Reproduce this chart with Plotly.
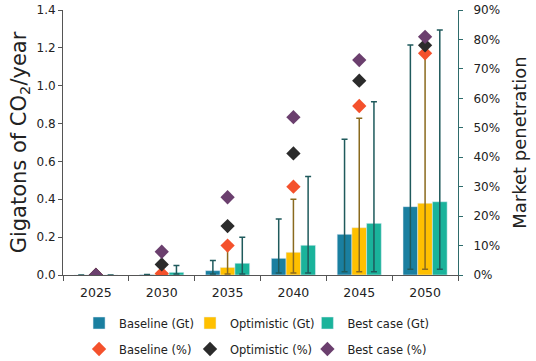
import plotly.graph_objects as go

years = ["2025", "2030", "2035", "2040", "2045", "2050"]

# Emission reductions (Gt CO2/year)
base_gt = [0.0, 0.002, 0.023, 0.088, 0.215, 0.361]
opt_gt = [0.0, 0.003, 0.040, 0.120, 0.250, 0.379]
best_gt = [0.0, 0.014, 0.062, 0.157, 0.273, 0.387]

# Range (high / low) for error bars (None = no range shown)
base_hi = [None, 0.002, 0.076, 0.296, 0.717, 1.215]
opt_hi = [None, 0.003, 0.170, 0.400, 0.828, 1.190]
best_hi = [None, 0.050, 0.200, 0.520, 0.915, 1.294]
base_lo = [None, 0.0, 0.005, 0.010, 0.017, 0.030]
opt_lo = [None, 0.0, 0.005, 0.010, 0.017, 0.030]
best_lo = [None, 0.005, 0.005, 0.010, 0.017, 0.030]

# Market penetration (%)
base_pct = [0.0, 0.5, 10.0, 30.0, 57.4, 75.3]
opt_pct = [0.0, 3.6, 16.6, 41.3, 66.0, 78.0]
best_pct = [0.0, 7.9, 26.4, 53.6, 73.0, 80.9]

font_family = "DejaVu Sans, Verdana, sans-serif"


def err(vals, hi, lo, color):
    up = [None if h is None else h - v for h, v in zip(hi, vals)]
    dn = [None if l is None else v - l for v, l in zip(vals, lo)]
    return dict(type="data", symmetric=False, array=up, arrayminus=dn,
                color=color, thickness=1.5, width=3)


fig = go.Figure()
fig.add_trace(go.Bar(x=years, y=base_gt, name="Baseline (Gt)", marker_color="#1a7fa0",
                     error_y=err(base_gt, base_hi, base_lo, "#1f5a5c"), legend="legend"))
fig.add_trace(go.Bar(x=years, y=opt_gt, name="Optimistic (Gt)", marker_color="#ffc000",
                     error_y=err(opt_gt, opt_hi, opt_lo, "#8a6a1e"), legend="legend2"))
fig.add_trace(go.Bar(x=years, y=best_gt, name="Best case (Gt)", marker_color="#1ab39b",
                     error_y=err(best_gt, best_hi, best_lo, "#1f5a5c"), legend="legend3"))

fig.add_trace(go.Scatter(x=years, y=base_pct, name="Baseline (%)", mode="markers", yaxis="y2",
                         marker=dict(symbol="diamond", size=11, color="#f4512c"), legend="legend4"))
fig.add_trace(go.Scatter(x=years, y=opt_pct, name="Optimistic (%)", mode="markers", yaxis="y2",
                         marker=dict(symbol="diamond", size=11, color="#2b2b2b"), legend="legend5"))
fig.add_trace(go.Scatter(x=years, y=best_pct, name="Best case (%)", mode="markers", yaxis="y2",
                         marker=dict(symbol="diamond", size=11, color="#6b3f6e"), legend="legend6"))

legend_common = dict(orientation="h", xanchor="left", xref="container",
                     yanchor="top", yref="container", itemwidth=30,
                     font=dict(size=11.5, color="#222"), traceorder="normal",
                     bgcolor="rgba(0,0,0,0)")
col_x = [0.1475, 0.3545, 0.5735]
row_y = [0.1454, 0.0734]

fig.update_layout(
    width=536, height=361,
    margin=dict(l=63, r=78, t=10, b=86, autoexpand=False),
    plot_bgcolor="white", paper_bgcolor="white",
    font=dict(family=font_family, size=12, color="#222"),
    barmode="group", bargap=0.33, bargroupgap=0,
    xaxis=dict(type="category", showline=True, linecolor="#555", linewidth=1,
               ticks="outside", tickson="boundaries", ticklen=5, tickcolor="#555",
               showgrid=False, tickfont=dict(size=12.5), ticklabelstandoff=6),
    yaxis=dict(range=[0, 1.4], dtick=0.2, tickformat=".1f", showline=True, linecolor="#555",
               ticks="outside", ticklen=4, tickcolor="#555", showgrid=False, zeroline=False,
               ticklabeloverflow="allow",
               title=dict(text="Gigatons of CO<sub>2</sub>/year", font=dict(size=21), standoff=4),
               tickfont=dict(size=12)),
    yaxis2=dict(range=[0, 90], dtick=10, ticksuffix="%", overlaying="y", side="right",
                showline=True, linecolor="#2e6b6b", ticks="outside", ticklen=4, tickcolor="#2e6b6b",
                showgrid=False, zeroline=False, ticklabelstandoff=8, ticklabeloverflow="allow",
                title=dict(text="Market penetration", font=dict(size=18), standoff=14),
                tickfont=dict(size=12)),
    legend=dict(legend_common, x=col_x[0], y=row_y[0]),
    legend2=dict(legend_common, x=col_x[1], y=row_y[0]),
    legend3=dict(legend_common, x=col_x[2], y=row_y[0]),
    legend4=dict(legend_common, x=col_x[0], y=row_y[1]),
    legend5=dict(legend_common, x=col_x[1], y=row_y[1]),
    legend6=dict(legend_common, x=col_x[2], y=row_y[1]),
    showlegend=True,
)

fig.write_html("out.html", config={"displayModeBar": False},
               post_script="document.body.style.margin='0';")
